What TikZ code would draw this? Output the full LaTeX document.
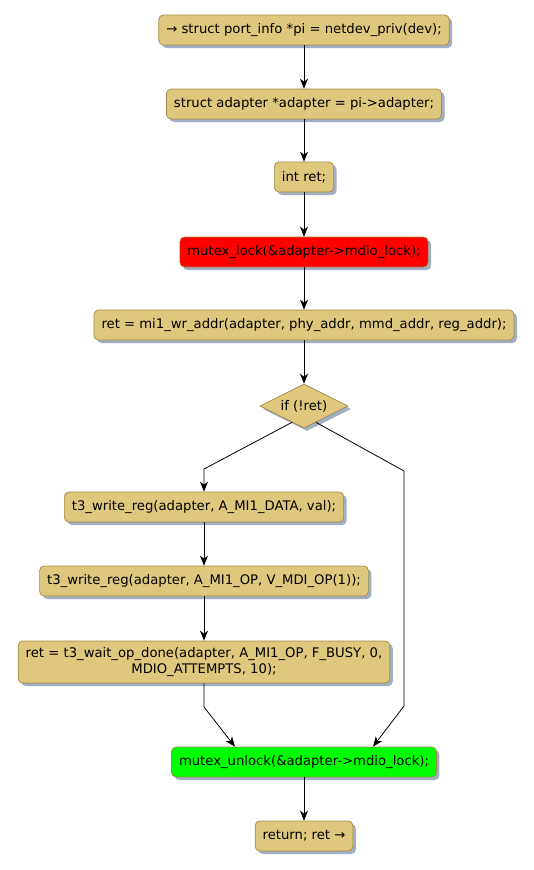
\documentclass[tikz,border=0pt]{standalone}
\usepackage{fontspec}
\setmainfont{DejaVu Sans}
\usetikzlibrary{positioning,arrows.meta,calc,shapes.geometric,shadows}
\definecolor{actfill}{RGB}{221,200,126}
\definecolor{actline}{RGB}{163,138,62}
\definecolor{actshadow}{RGB}{160,174,200}

\begin{document}
\begin{tikzpicture}[
    x=1pt, y=-1pt,
    font=\fontsize{13.2}{15.5}\selectfont,
    act/.style={draw=actline, fill=actfill, line width=0.7pt, rounded corners=4.5pt,
                minimum height=30pt, inner xsep=7.5pt, align=center,
                drop shadow={shadow xshift=3pt, shadow yshift=-3pt, fill=actshadow, opacity=1}},
    lockact/.style={act, fill=red},
    unlockact/.style={act, fill=green},
    cond/.style={diamond, aspect=2, draw=actline, fill=actfill, line width=0.7pt, inner sep=0pt,
                 minimum width=88pt, minimum height=44pt,
                 drop shadow={shadow xshift=3pt, shadow yshift=-3pt, fill=actshadow, opacity=1}},
    flow/.style={-{Stealth[length=10pt, width=8pt, inset=3pt]}, line width=0.8pt},
  ]
  \useasboundingbox (0,0) rectangle (534,870);

  % main sequence
  \node[act] (pi) at (304,30) {→ struct port\_info *pi = netdev\_priv(dev);};
  \node[act] (adap) at (304,104) {struct adapter *adapter = pi->adapter;};
  \node[act] (ret) at (304,177) {int ret;};
  \node[lockact] (lock) at (304,252) {mutex\_lock(\&adapter->mdio\_lock);};
  \node[act] (wraddr) at (304,325) {ret = mi1\_wr\_addr(adapter, phy\_addr, mmd\_addr, reg\_addr);};
  \node[cond] (ifret) at (304,406) {if (!ret)};

  % then branch
  \node[act] (wrdata) at (204,507) {t3\_write\_reg(adapter, A\_MI1\_DATA, val);};
  \node[act] (wrop) at (204,581) {t3\_write\_reg(adapter, A\_MI1\_OP, V\_MDI\_OP(1));};
  \node[act, minimum height=42pt] (wait) at (204,662)
    {ret = t3\_wait\_op\_done(adapter, A\_MI1\_OP, F\_BUSY, 0,\\MDIO\_ATTEMPTS, 10);};

  % join
  \node[unlockact] (unlock) at (304,762) {mutex\_unlock(\&adapter->mdio\_lock);};
  \node[act] (done) at (304,836) {return; ret →};

  \coordinate (lout) at ($(ifret.south)!0.27!(ifret.west)$);
  \coordinate (rout) at ($(ifret.south)!0.27!(ifret.east)$);
  \coordinate (lbend) at (204,469);
  \coordinate (rbend) at (404,471);
  \coordinate (rdown) at (404,706);
  \coordinate (ldown) at (204,707);

  \draw[flow] (pi) -- (adap);
  \draw[flow] (adap) -- (ret);
  \draw[flow] (ret) -- (lock);
  \draw[flow] (lock) -- (wraddr);
  \draw[flow] (wraddr) -- (ifret);
  \draw[flow] (lout) -- (lbend) -- (wrdata);
  \draw[flow] (wrdata) -- (wrop);
  \draw[flow] (wrop) -- (wait);
  \draw[flow] (wait) -- (ldown) -- (unlock.north -| 235,0);
  \draw[flow] (rout) -- (rbend) -- (rdown) -- (unlock.north -| 373,0);
  \draw[flow] (unlock) -- (done);
\end{tikzpicture}
\end{document}
